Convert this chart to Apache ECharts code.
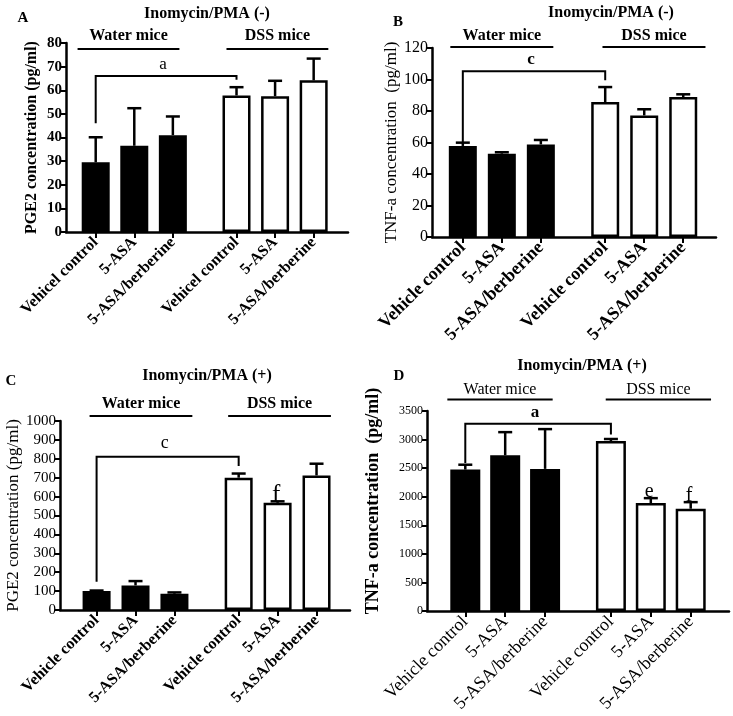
<!DOCTYPE html>
<html><head><meta charset="utf-8">
<script src="https://cdn.jsdelivr.net/npm/echarts@6/dist/echarts.min.js"></script>
<style>html,body{margin:0;padding:0;background:#fff}#c{width:733px;height:716px}</style>
</head><body><div id="c"></div>
<script>
// ---------------- data ----------------
const catsA = ['Vehicel control', '5-ASA', '5-ASA/berberine'];
const catsBCD = ['Vehicle control', '5-ASA', '5-ASA/berberine'];
const groupNames = ['Water mice', 'DSS mice'];

const titleTop = 'Inomycin/PMA (-)';
const titleBottom = 'Inomycin/PMA (+)';
const yNamePGE2 = 'PGE2 concentration (pg/ml)';
const yNameTNF = 'TNF-a concentration  (pg/ml)';

// means (bar heights) and upper ends of error bars, order: water x3, DSS x3
const meanA  = [29.5, 36.5, 41.0, 57.8, 57.5, 64.2];
const upperA = [40.1, 52.4, 48.9, 61.3, 64.0, 73.4];
const meanB  = [57.8, 52.9, 58.8, 85.7, 77.2, 88.9];
const upperB = [59.9, 53.8, 61.6, 95.2, 81.1, 90.6];
const meanC  = [100, 130, 86, 700, 567, 712];
const upperC = [103, 153, 93, 722, 575, 774];
const meanD  = [2475, 2725, 2487, 2973, 1890, 1790];
const upperD = [2560, 3130, 3183, 3010, 1975, 1905];

// y axis: [max, interval]
const yAxisA = [80, 10];
const yAxisB = [120, 20];
const yAxisC = [1000, 100];
const yAxisD = [3500, 500];

// significance brackets: [fromBar, toBar, top, leftEnd, rightEnd, letter]
const bracketA = [0, 3, 66, 46, 64.4, 'a'];
const bracketB = [0, 3, 105.2, 60, 99.5, 'c'];
const bracketC = [0, 3, 811, 150, 762, 'c'];
const bracketD = [0, 3, 3277, 2590, 3090, 'a'];

// letters above single bars: [bar, value, letter]
const marksC = [[4, 577, 'f']];
const marksD = [[4, 1978, 'e'], [5, 1908, 'f']];

// ---------------- layout ----------------
const FF = "'Liberation Serif','Times New Roman',serif";
const GROUP_GAP = 3.65;
function pos(i) { return i < 3 ? i : GROUP_GAP + (i - 3); }

const panels = [
  { letter: 'A', cats: catsA, mean: meanA, upper: upperA, yAx: yAxisA, br: bracketA, marks: [], yName: yNamePGE2, title: titleTop,
    grid: { left: 66, top: 43, width: 282, height: 189 }, xMin: -0.77, xMax: 6.54, barW: 28,
    tick: { fontSize: 15, fontWeight: 'bold' }, cat: { fontSize: 16, fontWeight: 'bold' }, name: { fontSize: 16, fontWeight: 'bold' }, nameGap: 26, namePad: 0,
    groupFont: [16, 'bold'], lineDy: 6, textDy: -7, shift: [-0.15, 0.06], brFont: [17, 'normal'], brDy: 3, markSize: 20,
    titleXY: [207, 14], letterXY: [23, 18] },
  { letter: 'B', cats: catsBCD, mean: meanB, upper: upperB, yAx: yAxisB, br: bracketB, marks: [], yName: yNameTNF, title: titleTop,
    grid: { left: 432, top: 48, width: 284, height: 189 }, xMin: -0.79, xMax: 6.49, barW: 28,
    tick: { fontSize: 16, fontWeight: 'normal' }, cat: { fontSize: 18, fontWeight: 'bold' }, name: { fontSize: 17, fontWeight: 'normal' }, nameGap: 31, namePad: 0,
    groupFont: [16, 'bold'], lineDy: -1, textDy: -12, shift: [0.0, 0.25], brFont: [17, 'bold'], brDy: 3, markSize: 20,
    titleXY: [611, 13], letterXY: [398, 22] },
  { letter: 'C', cats: catsBCD, mean: meanC, upper: upperC, yAx: yAxisC, br: bracketC, marks: marksC, yName: yNamePGE2, title: titleBottom,
    grid: { left: 60, top: 421, width: 290, height: 189 }, xMin: -0.94, xMax: 6.51, barW: 28,
    tick: { fontSize: 15, fontWeight: 'normal' }, cat: { fontSize: 16, fontWeight: 'bold' }, name: { fontSize: 17, fontWeight: 'normal' }, nameGap: 28, namePad: 0,
    groupFont: [16, 'bold'], lineDy: -5, textDy: -17, shift: [0.14, 0.05], brFont: [18, 'normal'], brDy: 4, markSize: 25,
    titleXY: [207, 376], letterXY: [11, 381] },
  { letter: 'D', cats: catsBCD, mean: meanD, upper: upperD, yAx: yAxisD, br: bracketD, marks: marksD, yName: yNameTNF, title: titleBottom,
    grid: { left: 427, top: 411, width: 302, height: 200 }, xMin: -0.96, xMax: 6.61, barW: 30,
    tick: { fontSize: 12, fontWeight: 'normal' }, cat: { fontSize: 18, fontWeight: 'normal' }, name: { fontSize: 18, fontWeight: 'bold' }, nameGap: 45, namePad: 20,
    groupFont: [16, 'normal'], lineDy: -11.5, textDy: -21.5, shift: [-0.13, 0.19], brFont: [17, 'bold'], brDy: 3, markSize: 20,
    titleXY: [582, 366], letterXY: [399, 376] }
];

function txt(text, x, y, size, weight, align, vAlign) {
  return { type: 'text', x: x, y: y, style: { text: text, fontSize: size, fontWeight: weight, fontFamily: FF, fill: '#000', align: align, verticalAlign: vAlign } };
}

const option = { animation: false, backgroundColor: '#fff', grid: [], xAxis: [], yAxis: [], series: [], graphic: [] };

panels.forEach((p, k) => {
  const positions = [0, 1, 2, 3, 4, 5].map(pos);
  const names = p.cats.concat(p.cats);
  option.grid.push(p.grid);
  option.xAxis.push({
    type: 'value', gridIndex: k, min: p.xMin, max: p.xMax,
    splitLine: { show: false },
    axisLine: { show: true, onZero: false, lineStyle: { color: '#000', width: 2.5 } },
    axisTick: { show: true, customValues: positions, length: 6, lineStyle: { color: '#000', width: 2 } },
    axisLabel: {
      show: true, customValues: positions, rotate: 45, margin: 8, color: '#000', fontFamily: FF,
      fontSize: p.cat.fontSize, fontWeight: p.cat.fontWeight,
      formatter: v => { const i = positions.findIndex(q => Math.abs(q - v) < 1e-6); return i >= 0 ? names[i] : ''; }
    }
  });
  option.yAxis.push({
    type: 'value', gridIndex: k, min: 0, max: p.yAx[0], interval: p.yAx[1],
    splitLine: { show: false },
    axisLine: { show: true, onZero: false, lineStyle: { color: '#000', width: 2.5 } },
    axisTick: { show: true, length: 5, lineStyle: { color: '#000', width: 2 } },
    axisLabel: { color: '#000', fontFamily: FF, fontSize: p.tick.fontSize, fontWeight: p.tick.fontWeight, margin: 4, formatter: v => String(v) },
    name: p.yName, nameLocation: 'middle', nameRotate: 90, nameGap: p.nameGap,
    nameTextStyle: { color: '#000', fontFamily: FF, fontSize: p.name.fontSize, fontWeight: p.name.fontWeight, padding: [0, 0, 0, p.namePad] }
  });

  // bars
  option.series.push({
    type: 'bar', xAxisIndex: k, yAxisIndex: k, barWidth: p.barW, z: 2,
    data: p.mean.map((v, i) => [pos(i), v]),
    itemStyle: { color: prm => prm.dataIndex < 3 ? '#000' : '#fff', borderColor: '#000', borderWidth: 2.5 }
  });

  // error bars (upper only)
  option.series.push({
    type: 'custom', xAxisIndex: k, yAxisIndex: k, z: 3,
    data: p.mean.map((v, i) => [pos(i), v, p.upper[i]]),
    renderItem: (params, api) => {
      const x = api.value(0);
      const a = api.coord([x, api.value(1)]), b = api.coord([x, api.value(2)]);
      const st = { stroke: '#000', lineWidth: 2.5 };
      return { type: 'group', children: [
        { type: 'line', shape: { x1: a[0], y1: a[1], x2: b[0], y2: b[1] }, style: st },
        { type: 'line', shape: { x1: b[0] - 7, y1: b[1], x2: b[0] + 7, y2: b[1] }, style: st }
      ] };
    }
  });

  // significance bracket
  const br = p.br;
  option.series.push({
    type: 'custom', xAxisIndex: k, yAxisIndex: k, z: 4,
    data: [[pos(br[0]), br[2], pos(br[1]), br[3], br[4]]],
    renderItem: (params, api) => {
      const x1 = api.value(0), top = api.value(1), x2 = api.value(2);
      const pL = api.coord([x1, api.value(3)]), pT1 = api.coord([x1, top]), pT2 = api.coord([x2, top]), pR = api.coord([x2, api.value(4)]);
      return { type: 'group', children: [
        { type: 'polyline', shape: { points: [pL, pT1, pT2, pR] }, style: { stroke: '#000', lineWidth: 2, fill: null } },
        txt(br[5], (pT1[0] + pT2[0]) / 2 - 3, pT1[1] - p.brDy, p.brFont[0], p.brFont[1], 'center', 'bottom')
      ] };
    }
  });

  // letters above bars
  if (p.marks.length) {
    option.series.push({
      type: 'custom', xAxisIndex: k, yAxisIndex: k, z: 5,
      data: p.marks.map(m => [pos(m[0]), m[1]]),
      renderItem: (params, api) => {
        const c = api.coord([api.value(0), api.value(1)]);
        return txt(p.marks[params.dataIndex][2], c[0] - 1.5, c[1] - 6, p.markSize, 'normal', 'center', 'middle');
      }
    });
  }

  // group labels with lines above the plot
  option.series.push({
    type: 'custom', xAxisIndex: k, yAxisIndex: k, z: 4,
    data: [[0, p.yAx[0]], [1, p.yAx[0]]],
    renderItem: (params, api) => {
      const g = api.value(0);
      const c = pos(g * 3) + 1 + p.shift[g];
      const l = api.coord([c - 1.32, api.value(1)]), r = api.coord([c + 1.32, api.value(1)]);
      const yL = l[1] + p.lineDy, yT = l[1] + p.textDy;
      return { type: 'group', children: [
        { type: 'line', shape: { x1: l[0], y1: yL, x2: r[0], y2: yL }, style: { stroke: '#000', lineWidth: 2 } },
        txt(groupNames[g], (l[0] + r[0]) / 2, yT, p.groupFont[0], p.groupFont[1], 'center', 'middle')
      ] };
    }
  });

  option.graphic.push(
    txt(p.title, p.titleXY[0], p.titleXY[1], 16, 'bold', 'center', 'middle'),
    txt(p.letter, p.letterXY[0], p.letterXY[1], 15, 'bold', 'center', 'middle')
  );
});

const chart = echarts.init(document.getElementById('c'), null, { renderer: 'canvas' });
chart.setOption(option);
</script>
</body></html>
